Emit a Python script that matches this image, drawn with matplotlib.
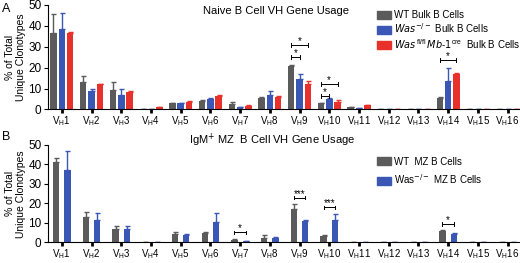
import numpy as np
import matplotlib.pyplot as plt
from matplotlib.patches import Patch

plt.rcParams['font.family'] = ['Liberation Sans', 'DejaVu Sans']

genes = [str(i) for i in range(1, 17)]
tick_labels = [r'V$_\mathregular{H}$' + g for g in genes]

# Panel A: naive B cells
a_wt = [36.5, 13.2, 9.5, 0.3, 3.0, 4.0, 2.5, 5.5, 21.0, 2.9, 1.0, 0.2, 0.2, 5.5, 0.0, 0.0]
a_wt_err = [9.0, 2.7, 3.5, 0.0, 0.3, 0.5, 1.0, 0.3, 0.4, 0.3, 0.3, 0.0, 0.0, 0.3, 0.0, 0.0]
a_ko = [38.6, 8.7, 7.0, 0.3, 3.0, 5.0, 1.0, 7.0, 14.8, 4.8, 0.5, 0.2, 0.2, 13.4, 0.0, 0.0]
a_ko_err = [7.5, 1.3, 3.0, 0.0, 0.3, 0.5, 0.2, 1.7, 2.2, 0.7, 0.2, 0.0, 0.0, 6.4, 0.0, 0.0]
a_cko = [36.5, 12.2, 8.4, 1.0, 3.7, 6.5, 1.7, 5.9, 12.0, 3.5, 2.0, 0.0, 0.0, 17.0, 0.0, 0.0]
a_cko_err = [0.4, 0.2, 0.2, 0.1, 0.2, 0.2, 0.2, 0.3, 1.5, 1.0, 0.3, 0.0, 0.0, 0.5, 0.0, 0.0]
# (gene index, bar i, bar j, height, label)
a_sig = [(8, 0, 2, 31.0, '*'), (8, 0, 1, 25.0, '*'),
         (9, 0, 2, 12.2, '*'), (9, 0, 1, 6.3, '*'), (13, 0, 2, 23.8, '*')]

# Panel B: IgM+ MZ B cells
b_wt = [41.4, 13.0, 6.8, 0.0, 4.4, 4.9, 1.5, 2.4, 17.0, 3.1, 0.0, 0.0, 0.2, 6.0, 0.0, 0.0]
b_wt_err = [2.1, 2.5, 1.7, 0.0, 0.9, 0.6, 0.2, 1.6, 2.5, 0.9, 0.0, 0.0, 0.0, 0.4, 0.0, 0.0]
b_ko = [37.3, 11.4, 6.8, 0.0, 3.9, 10.4, 0.8, 2.5, 11.1, 11.4, 0.0, 0.0, 0.0, 4.4, 0.0, 0.0]
b_ko_err = [9.7, 3.6, 1.7, 0.0, 0.4, 4.6, 0.2, 0.5, 0.3, 3.1, 0.0, 0.0, 0.0, 0.3, 0.0, 0.0]
b_sig = [(6, 0, 1, 5.2, '*'), (8, 0, 1, 23.0, '***'),
         (9, 0, 1, 18.0, '***'), (13, 0, 1, 9.6, '*')]

gray = '#5b5b5b'
blue = '#3a57b5'
red = '#e8312b'

fig = plt.figure(figsize=(5.2, 2.63), dpi=100)
ax_a = fig.add_axes([0.092, 0.584, 0.908, 0.397])
ax_b = fig.add_axes([0.092, 0.078, 0.908, 0.371])

x = np.arange(len(genes))


def draw_panel(ax, series, offsets, width, sig):
    for (vals, errs, color), off in zip(series, offsets):
        ax.bar(x + off, vals, width, color=color, zorder=2)
        ax.errorbar(x + off, vals, yerr=[np.zeros(len(vals)), errs], fmt='none',
                    ecolor=color, elinewidth=1.0, capsize=1.8, capthick=1.0, zorder=2)
    for g, i, j, h, lab in sig:
        x1, x2 = g + offsets[i], g + offsets[j]
        ax.plot([x1, x2], [h, h], color='black', lw=0.7)
        ax.plot([x1, x1], [h - 0.9, h + 0.9], color='black', lw=0.7)
        ax.plot([x2, x2], [h - 0.9, h + 0.9], color='black', lw=0.7)
        ax.text((x1 + x2) / 2, h - 0.6, lab, ha='center', va='bottom', fontsize=7)
    ax.set_xlim(-0.47, 15.42)
    ax.set_ylim(0, 50)
    ax.set_yticks([0, 10, 20, 30, 40, 50])
    ax.set_xticks(x)
    ax.set_xticklabels(tick_labels, fontsize=7)
    ax.tick_params(axis='x', length=3, width=2, pad=0.5)
    ax.tick_params(axis='y', labelsize=8.5, length=3, width=0.8, pad=1.5)
    ax.spines['top'].set_visible(False)
    ax.spines['right'].set_visible(False)
    ax.set_ylabel('% of Total\nUnique Clonotypes', fontsize=7.5, labelpad=2, linespacing=1.1)


draw_panel(ax_a, [(a_wt, a_wt_err, gray), (a_ko, a_ko_err, blue), (a_cko, a_cko_err, red)],
           [-0.28, 0.0, 0.28], 0.22, a_sig)
draw_panel(ax_b, [(b_wt, b_wt_err, gray), (b_ko, b_ko_err, blue)],
           [-0.19, 0.19], 0.21, b_sig)

fig.text(0.53, 0.978, 'Naive B Cell VH Gene Usage', ha='center', va='top', fontsize=8)
fig.text(0.523, 0.5, r'IgM$^{+}$ MZ  B Cell VH Gene Usage', ha='center', va='top', fontsize=8)
fig.text(0.003, 0.99, 'A', ha='left', va='top', fontsize=9)
fig.text(0.003, 0.5, 'B', ha='left', va='top', fontsize=9)

leg_a = ax_a.legend([Patch(color=gray), Patch(color=blue), Patch(color=red)],
                    ['WT Bulk B Cells',
                     r'$\it{Was}^{-/-}$ Bulk B Cells',
                     r'$\it{Was}^{\,\mathregular{fl/fl}}\,\it{Mb}$-$\it{1}^{\mathregular{cre}}$  Bulk B Cells'],
                    loc='upper left', bbox_to_anchor=(0.693, 0.97), frameon=False, fontsize=7,
                    handlelength=1.4, handleheight=0.9, handletextpad=0.3, labelspacing=0.15,
                    borderaxespad=0, borderpad=0.2)
leg_b = ax_b.legend([Patch(color=gray), Patch(color=blue)],
                    ['WT  MZ B Cells', r'Was$^{-/-}$ MZ B Cells'],
                    loc='upper left', bbox_to_anchor=(0.693, 0.90), frameon=False, fontsize=7,
                    handlelength=1.4, handleheight=0.9, handletextpad=0.3, labelspacing=0.6,
                    borderaxespad=0, borderpad=0.2)

fig.savefig('out.png', dpi=100)
